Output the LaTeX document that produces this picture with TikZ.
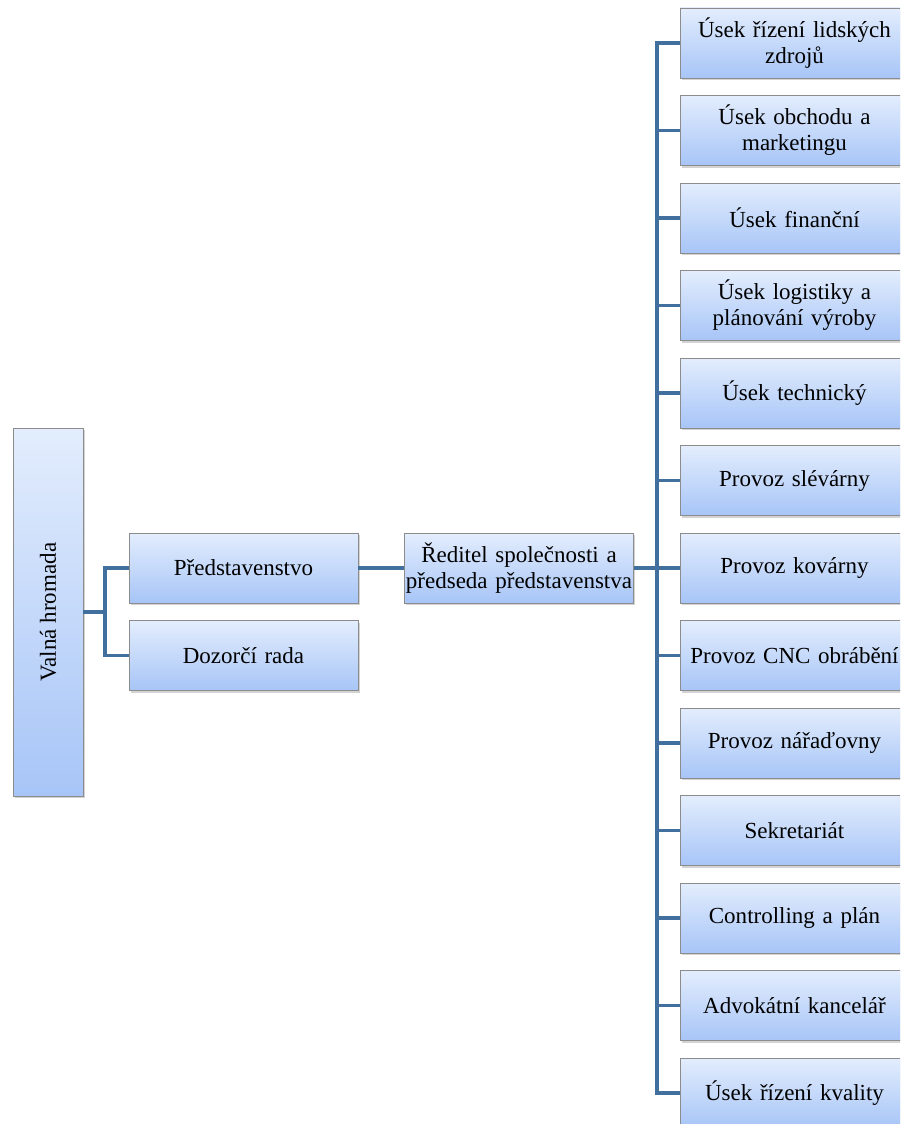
\documentclass[tikz,border=0pt]{standalone}
\usepackage{fontspec}
\setmainfont{Liberation Serif}
\usetikzlibrary{positioning,shadows}
\definecolor{boxtop}{HTML}{E3EDFD}
\definecolor{boxbot}{HTML}{A7C5F7}
\definecolor{linkblue}{HTML}{41709E}

\begin{document}
\begin{tikzpicture}[x=1pt,y=-1pt]
\tikzset{unit/.style={draw=black!45, top color=boxtop, bottom color=boxbot,
		minimum width=229pt, minimum height=70pt, inner sep=0.5pt,
		font=\fontsize{23}{26}\selectfont,
		drop shadow={shadow xshift=1.5pt, shadow yshift=-2pt, opacity=.35}},
	dept/.style={unit, text width=228pt, align=center},
	link/.style={draw=linkblue, line width=3.5pt}}
				\useasboundingbox (0,0) rectangle (900,1124);
				\clip (0,0) rectangle (900,1124);
				% left part
				\node[unit, minimum width=70pt, minimum height=368pt] (assembly) at (48,612) {\rotatebox{90}{Valná hromada}};
				\node[dept] (board) at (243.5,568) {Představenstvo};
				\node[dept] (supervisory) at (243.5,655.5) {Dozorčí rada};
				\node[dept] (director) at (519,568) {Ředitel společnosti a\\předseda představenstva};
				% departments
				\foreach \name [count=\i] in {{Úsek řízení lidských\\zdrojů}, {Úsek obchodu a\\marketingu}, Úsek finanční,
					{Úsek logistiky a\\plánování výroby}, Úsek technický, Provoz slévárny, Provoz kovárny,
					Provoz CNC obrábění, Provoz nářaďovny, Sekretariát, Controlling a plán,
					Advokátní kancelář, Úsek řízení kvality}
					\node[dept] (dep\i) at (794.5,{43+87.5*(\i-1)}) {\name};
				% connectors
				\coordinate (fork) at (105,612);
				\coordinate (trunk) at (657,568);
				\draw[link] (assembly.east) -- (fork);
				\draw[link] (board.west) -| (fork) |- (supervisory.west);
				\draw[link] (board) -- (director);
				\draw[link] (director.east) -- (trunk);
				\draw[link] (dep1.west) -| (trunk) |- (dep13.west);
				\foreach \i in {2,...,12}
					\draw[link] (dep\i.west) -- (dep\i.west -| trunk);
\end{tikzpicture}
\end{document}
